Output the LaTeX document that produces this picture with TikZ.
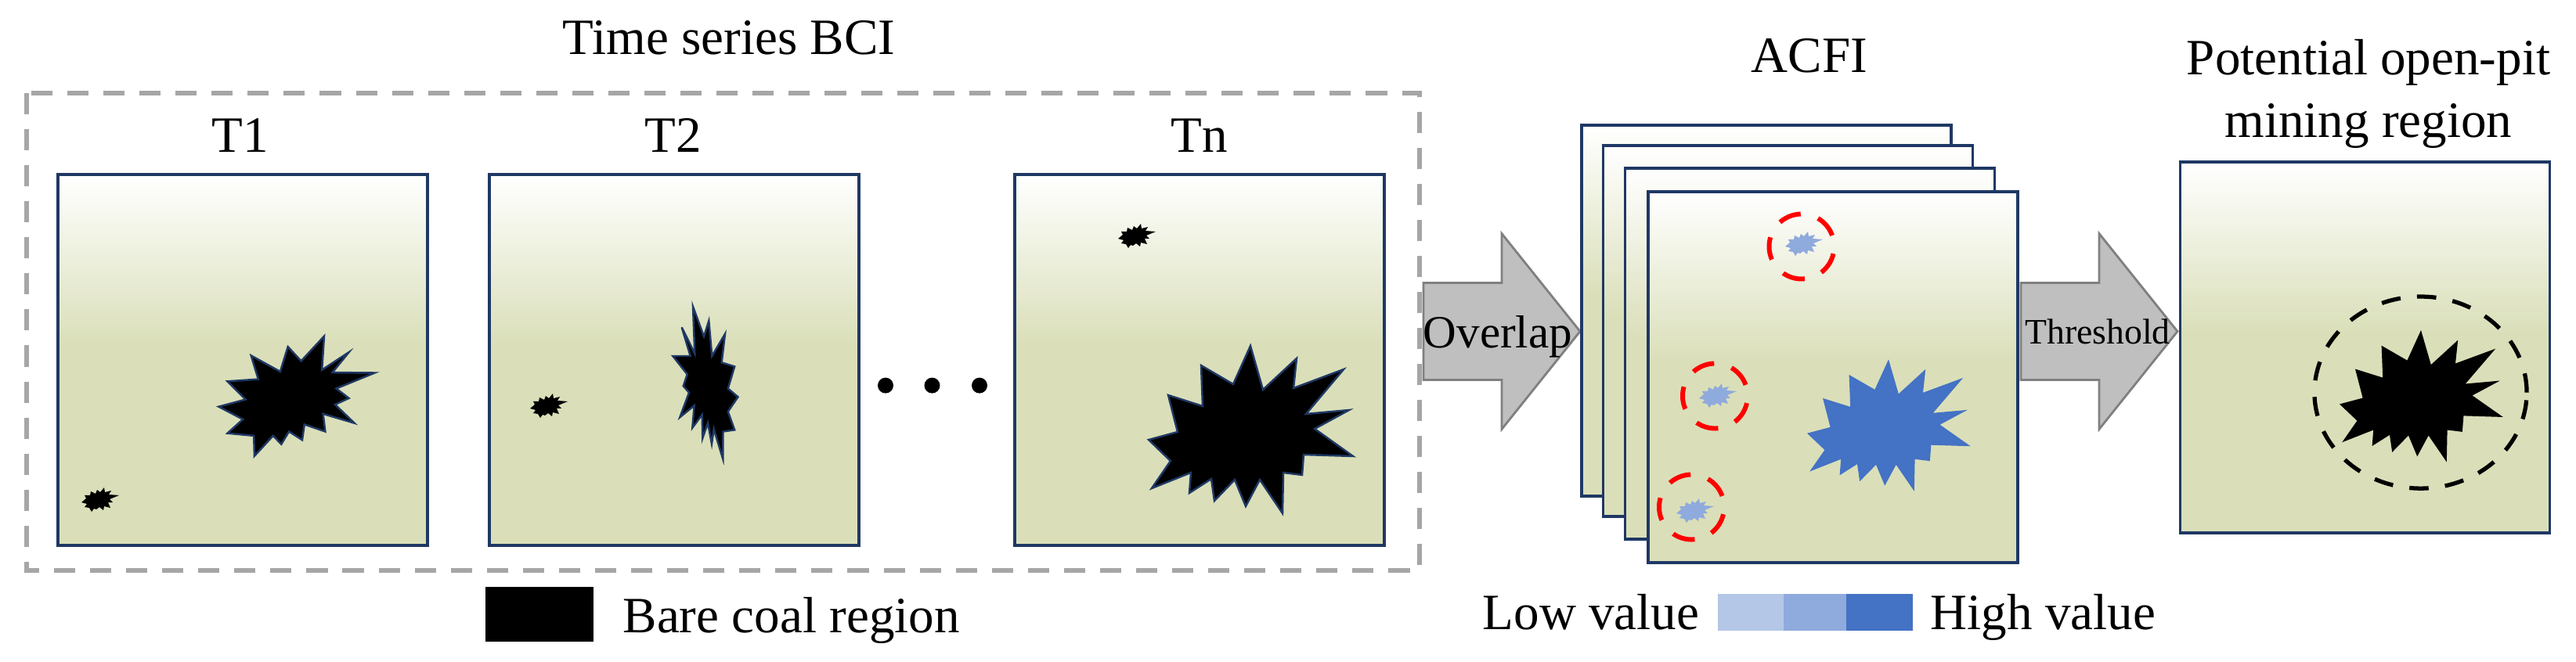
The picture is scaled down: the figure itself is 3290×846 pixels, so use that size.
\documentclass[tikz,border=0pt]{standalone}
\usepackage{fontspec}
\setmainfont{Liberation Serif}
\usetikzlibrary{shapes.geometric}
\definecolor{panelgreen}{HTML}{DADFB9}
\definecolor{panelline}{HTML}{1F3864}
\definecolor{lowblue}{HTML}{B4C7E7}
\definecolor{midblue}{HTML}{8FAADC}
\definecolor{highblue}{HTML}{4472C4}
\pgfdeclareverticalshading{panelfade}{100bp}{color(0bp)=(panelgreen); color(52bp)=(panelgreen); color(75bp)=(white); color(100bp)=(white)}
\tikzset{
  panel/.style={draw=panelline, line width=1pt, shading=panelfade, minimum width=4.72cm, minimum height=4.74cm, inner sep=0pt},
  txt/.style={font=\fontsize{18.5}{22.8}\selectfont, inner sep=0pt, anchor=base},
  redring/.style={circle, draw=red, line width=1.7pt, minimum size=.83cm, inner sep=0pt, dash pattern=on 8.25pt off 6.55pt, dash phase=10.7pt},
  bigburst/.pic={\path[pic actions] (-130,12)--(-93,2)--(-105,-45)--(-61,-31)--(-63,-83)--(-22,-59)--(0,-108)--(16,-52)--(59,-92)--(55,-54)--(119,-78)--(71,-21)--(126,-26)--(82,-2)--(131,33)--(68,31)--(66,57)--(42,54)--(41,106)--(12,63)--(-6,97)--(-20,63)--(-46,90)--(-50,62)--(-78,80)--(-76,54)--(-126,74)--(-102,39)--cycle;},
  smallburst/.pic={\path[pic actions] (-21,2)--(-15,-3)--(-17,-7)--(-10,-7)--(-9,-12)--(-3,-9)--(-1,-14)--(3,-11)--(8,-17)--(9,-11)--(17,-13)--(14,-8)--(27,-7)--(15,-2)--(19,2)--(13,2)--(16,9)--(8,7)--(7,12)--(2,8)--(-2,11)--(-5,10)--(-8,14)--(-11,9)--(-17,8)--(-14,4)--cycle;},
  fatarrow/.pic={\draw[draw=black!50, fill=black!25, line width=.8pt] (0,-62)--(100,-62)--(100,-125)--(200,0)--(100,125)--(100,62)--(0,62)--cycle;}
}
\begin{document}
\begin{tikzpicture}[x=.01cm, y=-.01cm]
  \useasboundingbox (0,0) rectangle (3290,846);
  % time series
  \draw[draw=black!35, line width=1.5pt, dash pattern=on 7.7pt off 5.4pt] (34,119) rectangle (1813,729);
  \node[txt] (title) at (931,70) {Time series BCI};
  \node[panel] (t1) at (310,460) {};
  \node[panel] (t2) at (861,460) {};
  \node[panel] (tn) at (1532,460) {};
  \node[txt] (t1label) at (307,195) {T1};
  \node[txt] (t2label) at (860,195) {T2};
  \node[txt] (tnlabel) at (1532,195) {Tn};
  % T1 bursts
  \draw[draw=panelline, fill=black, line width=.7pt] (279.3,519.7)--(313.7,510.5)--(290.5,487.3)--(329.8,484.6)--(320.7,454.4)--(357.9,474.9)--(367.7,443.1)--(384.6,461.4)--(414,429.6)--(411.2,472.7)--(445.6,450.1)--(424.6,476)--(478.6,476.5)--(429.5,496.5)--(445.6,508.9)--(428,517)--(452.6,540.7)--(412.6,528.9)--(415.4,551.5)--(388.8,542.4)--(386,562.3)--(369.1,551.5)--(359.3,567.7)--(348.8,556.9)--(324.9,582.8)--(324.2,556.9)--(290.5,553.7)--(310.2,535.9)--cycle;
  \pic[fill=black] at (125,640) {smallburst};
  % T2 bursts
  \draw[draw=panelline, fill=black, line width=.7pt] (859.3,455)--(881.7,455)--(870.7,418.3)--(887.3,451.7)--(885,391.7)--(899,430)--(905.3,410)--(909.3,455)--(926,426.7)--(921.7,463.3)--(938.2,468.4)--(929.8,496.5)--(942.5,507.3)--(929.8,526)--(938.2,549.4)--(923.5,551.5)--(923.3,586.7)--(911.7,548.3)--(909,567.3)--(904,540.7)--(897.3,560)--(896.7,530)--(884.3,546.7)--(886.7,518.3)--(868.3,533.3)--(880,501.7)--(872.7,493.3)--(877.7,478.3)--cycle;
  \pic[fill=black] at (698,520) {smallburst};
  % Tn bursts
  \pic[draw=panelline, fill=black, line width=.7pt] at (1597,550) {bigburst};
  \pic[fill=black] at (1449,303) {smallburst};
  % dots
  \fill (1131,492.6) circle[radius=10] (1190.5,492.6) circle[radius=10] (1251,492.6) circle[radius=10];
  % legend of coal
  \node[fill=black, minimum width=1.38cm, minimum height=.7cm, inner sep=0pt] (coalkey) at (689,785) {};
  \node[txt, anchor=base west] (coallabel) at (795,808) {Bare coal region};
  % overlap arrow
  \pic at (1818,423.5) {fatarrow};
  \node[txt, font=\fontsize{16.8}{20}\selectfont] (overlap) at (1913,445) {Overlap};
  % stack of ACFI
  \node[panel] (acfid) at (2256,397) {};
  \node[panel] (acfic) at (2283.5,423) {};
  \node[panel] (acfib) at (2311.5,452) {};
  \node[panel] (acfi) at (2341,482) {};
  \node[txt] (acfilabel) at (2311,93) {ACFI};
  \pic[fill=highblue, xscale=.8, yscale=.787] at (2412,544.3) {bigburst};
  \pic[fill=midblue] at (2301,313) {smallburst};
  \pic[fill=midblue] at (2191,507) {smallburst};
  \pic[fill=midblue] at (2162,654) {smallburst};
  \node[redring] (ringa) at (2301,315) {};
  \node[redring] (ringb) at (2190.5,506) {};
  \node[redring] (ringc) at (2160.5,648) {};
  % value legend
  \node[txt, anchor=base west] (lowlabel) at (1893,804) {Low value};
  \fill[lowblue] (2193.5,759) rectangle (2278,806);
  \fill[midblue] (2278,759) rectangle (2358,806);
  \fill[highblue] (2358,759) rectangle (2442.6,806);
  \node[txt, anchor=base west] (highlabel) at (2465,804) {High value};
  % threshold arrow
  \pic at (2581,423.5) {fatarrow};
  \node[txt, font=\fontsize{13}{16}\selectfont] (threshold) at (2679,440) {Threshold};
  % result
  \node[panel] (result) at (3020.5,444) {};
  \node[txt, anchor=center, align=center] (resultlabel) at (3025,120) {Potential open-pit\\mining region};
  \pic[fill=black, xscale=.8, yscale=.787] at (3092,507) {bigburst};
  \node[ellipse, draw=black, line width=1.5pt, dash pattern=on 7pt off 6pt, minimum width=2.71cm, minimum height=2.45cm, inner sep=0pt] (resultring) at (3091.5,501.6) {};
\end{tikzpicture}
\end{document}
